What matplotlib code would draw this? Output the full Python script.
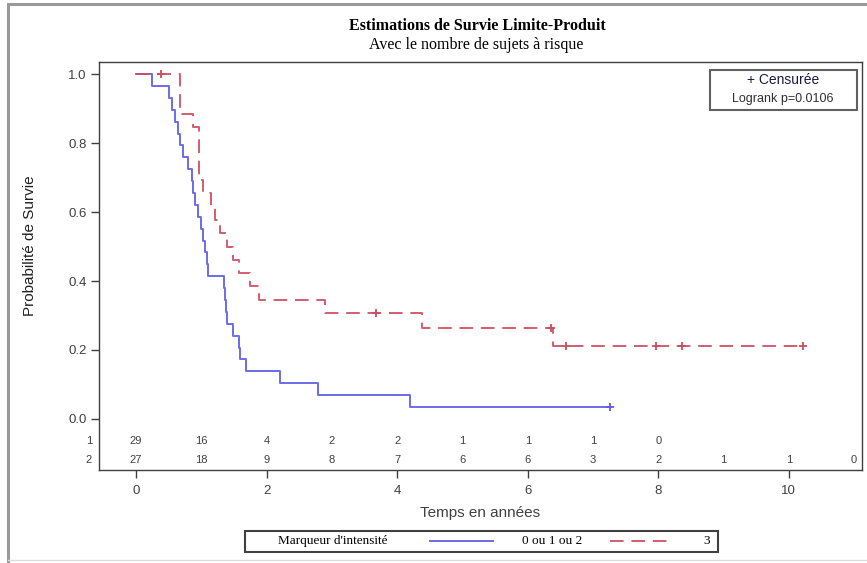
import numpy as np
import matplotlib.pyplot as plt
from matplotlib.lines import Line2D
from matplotlib.patches import Rectangle
from matplotlib.transforms import blended_transform_factory

# Group 1 (marqueur 0 ou 1 ou 2): death times and censored times, in years
DEATHS_1 = [0.245, 0.51, 0.55, 0.60, 0.65, 0.68, 0.72, 0.79, 0.86, 0.88,
            0.90, 0.95, 0.99, 1.03, 1.05, 1.08, 1.10, 1.34, 1.36, 1.38,
            1.40, 1.48, 1.57, 1.60, 1.68, 2.21, 2.79, 4.20]
CENSORED_1 = [7.26]

# Group 2 (marqueur 3)
DEATHS_2 = [0.67, 0.67, 0.67, 0.87, 0.97, 0.97, 0.97, 0.97, 1.03, 1.15,
            1.21, 1.28, 1.40, 1.48, 1.57, 1.74, 1.88, 2.89, 4.38, 6.38]
CENSORED_2 = [0.38, 3.68, 6.36, 6.58, 7.97, 8.36, 10.21]

# Number at risk table
RISK_TIMES = list(range(12))
RISK_1 = [29, 16, 4, 2, 2, 1, 1, 1, 0]
RISK_2 = [27, 18, 9, 8, 7, 6, 6, 3, 2, 1, 1, 0]

X_TICKS = [0, 2, 4, 6, 8, 10]
Y_TICKS = [0.0, 0.2, 0.4, 0.6, 0.8, 1.0]

BLUE = '#5c5ce6'
RED = '#cc4c5e'
GREY = '#404040'
SANS = 'Liberation Sans'
SERIF = 'Liberation Serif'


def kaplan_meier(deaths, censored):
    """Product-limit estimate: step times, survival values and the
    survival at each censored time."""
    deaths = np.asarray(deaths)
    censored = np.asarray(censored)
    event_times = np.unique(deaths)
    step_t = [0.0]
    step_s = [1.0]
    surv = 1.0
    for t in event_times:
        at_risk = np.sum(deaths >= t) + np.sum(censored >= t)
        surv *= 1 - np.sum(deaths == t) / at_risk
        step_t.append(t)
        step_s.append(surv)
    cens_s = [step_s[np.searchsorted(event_times, c, side='right')]
              for c in censored]
    end = max(deaths.max(), censored.max())
    step_t.append(end)
    step_s.append(surv)
    return np.array(step_t), np.array(step_s), np.array(cens_s)


fig = plt.figure(figsize=(8.67, 5.63), dpi=100)
ax = fig.add_axes([99 / 867, 1 - 470 / 563, 763 / 867, 408 / 563])

t1, s1, c1 = kaplan_meier(DEATHS_1, CENSORED_1)
t2, s2, c2 = kaplan_meier(DEATHS_2, CENSORED_2)

ax.step(t1, s1, where='post', color=BLUE, lw=1.4, alpha=0.9)
ax.plot(CENSORED_1, c1, ls='none', marker='+', ms=6, mew=1.3, color=BLUE)
ax.step(t2, s2, where='post', color=RED, lw=1.4, alpha=0.9,
        ls='--', dashes=(7, 4))
ax.plot(CENSORED_2, c2, ls='none', marker='+', ms=6, mew=1.3, color=RED)

ax.set_xlim(-0.567, 11.12)
ax.set_ylim(-0.148, 1.035)
ax.set_xticks(X_TICKS)
ax.set_yticks(Y_TICKS)
ax.set_yticklabels([f'{v:.1f}' for v in Y_TICKS])
ax.tick_params(axis='both', direction='out', colors=GREY, labelsize=9.5,
               length=6, width=1)
ax.tick_params(axis='x', pad=5)
ax.tick_params(axis='y', pad=3)
for lab in ax.get_xticklabels() + ax.get_yticklabels():
    lab.set_family(SANS)
for spine in ax.spines.values():
    spine.set_color(GREY)
    spine.set_linewidth(1.0)

ax.set_xlabel('Temps en années', family=SANS, fontsize=11, color=GREY,
              labelpad=6)
ax.set_ylabel('Probabilité de Survie', family=SANS, fontsize=11,
              color='#202020')
ax.yaxis.set_label_coords(-0.081, 0.55)

# number at risk rows inside the axes
trans = blended_transform_factory(ax.transData, ax.transAxes)
for y_row, label, counts in [(0.071, '1', RISK_1), (0.0245, '2', RISK_2)]:
    ax.text(-0.009, y_row, label, transform=ax.transAxes, ha='right',
            va='center', family=SANS, fontsize=8, color=GREY)
    for x, n in zip(RISK_TIMES, counts):
        ax.text(x, y_row, str(n), transform=trans, ha='center',
                va='center', family=SANS, fontsize=8, color=GREY)

# titles
fig.text(477 / 867, 1 - 26 / 563, 'Estimations de Survie Limite-Produit',
         ha='center', va='center', family=SERIF, fontsize=11.5,
         weight='bold')
fig.text(476 / 867, 1 - 45 / 563, 'Avec le nombre de sujets à risque',
         ha='center', va='center', family=SERIF, fontsize=11.5)

# censored / logrank box
fig.patches.append(Rectangle((710 / 867, 1 - 110 / 563), 147 / 867,
                             40 / 563, transform=fig.transFigure,
                             fill=False, ec='#606060', lw=1.5))
fig.text(783 / 867, 1 - 80 / 563, '+ Censurée', ha='center', va='center',
         family=SANS, fontsize=10, color='#1a1a40')
fig.text(783 / 867, 1 - 99 / 563, 'Logrank p=0.0106', ha='center',
         va='center', family=SANS, fontsize=9, color='#303030')

# bottom legend
fig.patches.append(Rectangle((245 / 867, 1 - 552 / 563), 473 / 867,
                             21 / 563, transform=fig.transFigure,
                             fill=False, ec='#404040', lw=1.5))
ly = 1 - 541 / 563
fig.text(333 / 867, ly, "Marqueur d'intensité", ha='center', va='center',
         family=SERIF, fontsize=9.5)
fig.lines.append(Line2D([430 / 867, 493 / 867], [ly, ly],
                        transform=fig.transFigure, color=BLUE, lw=1.4,
                        alpha=0.9))
fig.text(552 / 867, ly, '0 ou 1 ou 2', ha='center', va='center',
         family=SERIF, fontsize=9.5)
fig.lines.append(Line2D([610 / 867, 672 / 867], [ly, ly],
                        transform=fig.transFigure, color=RED, lw=1.4,
                        alpha=0.9, ls='--', dashes=(7, 4)))
fig.text(707 / 867, ly, '3', ha='center', va='center', family=SERIF,
         fontsize=9.5)

# outer frame of the graph window
fig.lines.append(Line2D([8 / 867, 1], [1 - 4 / 563, 1 - 4 / 563],
                        transform=fig.transFigure, color='#9a9a9a', lw=2.2))
fig.lines.append(Line2D([8 / 867, 8 / 867], [0, 1 - 4 / 563],
                        transform=fig.transFigure, color='#9a9a9a', lw=2.2))
fig.lines.append(Line2D([8 / 867, 1], [1 - 560 / 563, 1 - 560 / 563],
                        transform=fig.transFigure, color='#dddddd', lw=1))

fig.savefig('out.png', dpi=100)
